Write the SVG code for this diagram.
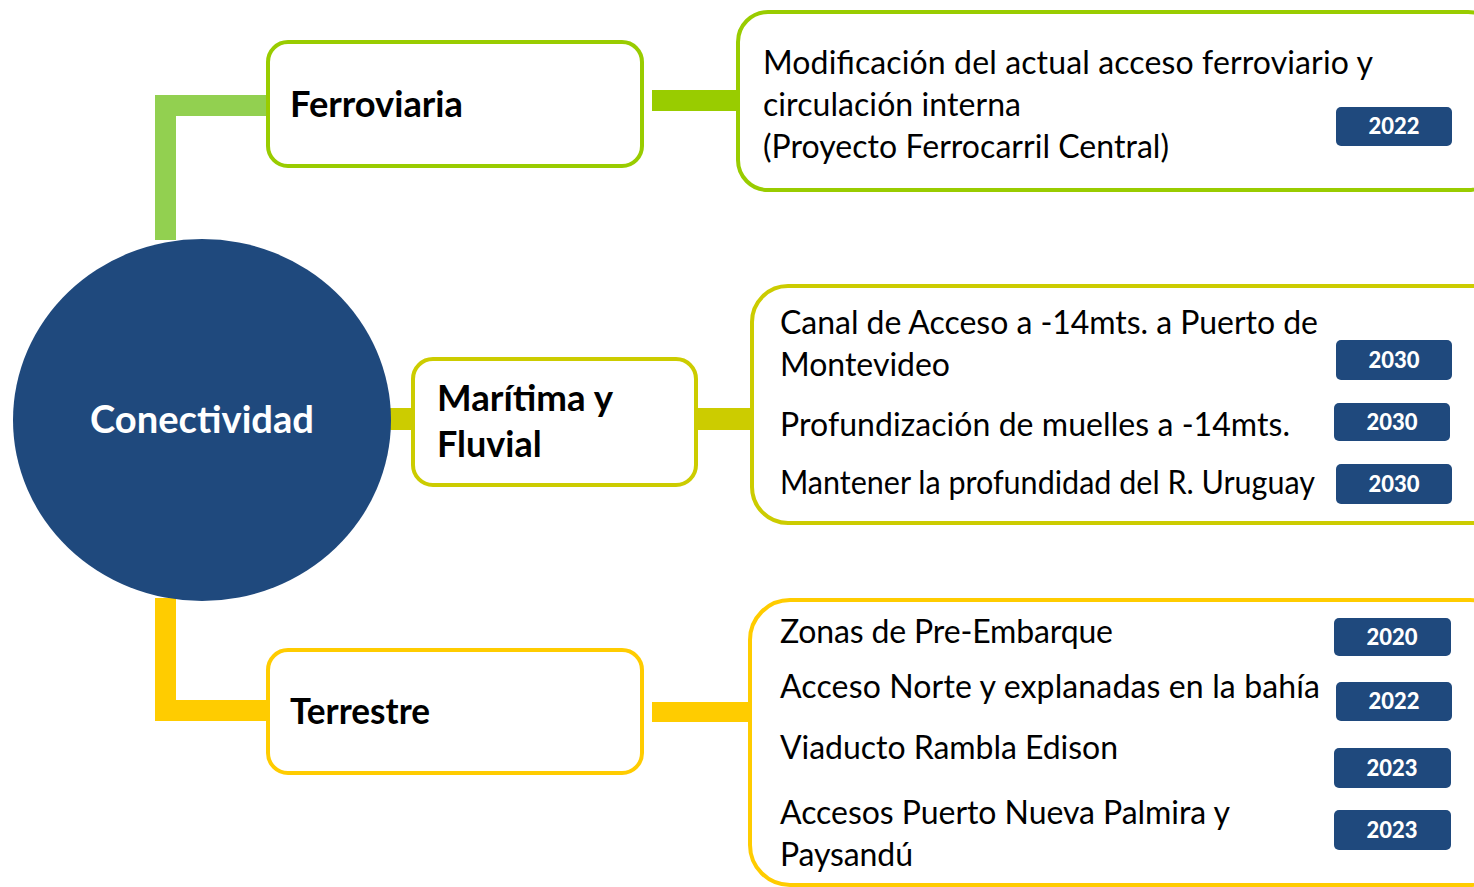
<svg xmlns="http://www.w3.org/2000/svg" width="1474" height="887" viewBox="0 0 1474 887">
<style>
.t{font-family:Lato,"Open Sans","Liberation Sans",sans-serif;font-size:32px;fill:#000}
.h{font-family:Lato,"Open Sans","Liberation Sans",sans-serif;font-size:36px;font-weight:bold;fill:#000}
.b{font-family:Lato,"Open Sans","Liberation Sans",sans-serif;font-size:22px;font-weight:900;fill:#fff;text-anchor:middle}
.badge{fill:#1f497d}
.box{fill:#fff;stroke-width:4}
</style>
<rect width="1474" height="887" fill="#fff"/>
<g id="connectors">
<path d="M165.5,240 V105.5 H268" fill="none" stroke="#92d050" stroke-width="21"/>
<rect x="652" y="90" width="86" height="21" fill="#99cc00"/>
<rect x="388" y="408" width="26" height="22" fill="#cccc00"/>
<rect x="696" y="408" width="56" height="22" fill="#cccc00"/>
<path d="M165.5,598 V710.5 H268" fill="none" stroke="#ffcc00" stroke-width="21"/>
<rect x="652" y="702" width="98" height="20" fill="#ffcc00"/>
</g>
<g id="conectividad">
<ellipse cx="202" cy="420" rx="189" ry="181" fill="#1f497d"/>
<text x="202" y="433" style="font-family:Lato,'Open Sans','Liberation Sans',sans-serif;font-size:38px;font-weight:bold;fill:#fff;text-anchor:middle" textLength="224" lengthAdjust="spacingAndGlyphs">Conectividad</text>
</g>
<g id="ferroviaria">
<rect class="box" x="268" y="42" width="374" height="124" rx="20" stroke="#99cc00"/>
<text class="h" x="290" y="117" textLength="173" lengthAdjust="spacingAndGlyphs">Ferroviaria</text>
</g>
<g id="ferro-detail">
<rect class="box" x="738" y="12" width="760" height="178" rx="30" stroke="#99cc00"/>
<text class="t" x="763" y="74" textLength="610">Modificación del actual acceso ferroviario y</text>
<text class="t" x="763" y="116" textLength="258">circulación interna</text>
<text class="t" x="763" y="158" textLength="406">(Proyecto Ferrocarril Central)</text>
<rect class="badge" x="1336" y="107" width="116" height="39" rx="5"/>
<text class="b" x="1394" y="134">2022</text>
</g>
<g id="maritima">
<rect class="box" x="413" y="359" width="283" height="126" rx="20" stroke="#cccc00"/>
<text class="h" x="437" y="411" textLength="176" lengthAdjust="spacingAndGlyphs">Marítima y</text>
<text class="h" x="437" y="457">Fluvial</text>
</g>
<g id="maritima-detail">
<rect class="box" x="752" y="286" width="760" height="237" rx="36" stroke="#cccc00"/>
<text class="t" x="780" y="334" textLength="538">Canal de Acceso a -14mts. a Puerto de</text>
<text class="t" x="780" y="376" textLength="170">Montevideo</text>
<text class="t" x="780" y="436" textLength="510">Profundización de muelles a -14mts.</text>
<text class="t" x="780" y="494" textLength="535" lengthAdjust="spacingAndGlyphs">Mantener la profundidad del R. Uruguay</text>
<rect class="badge" x="1336" y="340" width="116" height="40" rx="5"/>
<text class="b" x="1394" y="368">2030</text>
<rect class="badge" x="1334" y="403" width="116" height="38" rx="5"/>
<text class="b" x="1392" y="430">2030</text>
<rect class="badge" x="1336" y="464" width="116" height="40" rx="5"/>
<text class="b" x="1394" y="492">2030</text>
</g>
<g id="terrestre">
<rect class="box" x="268" y="650" width="374" height="123" rx="20" stroke="#ffcc00"/>
<text class="h" x="290" y="724" textLength="140" lengthAdjust="spacingAndGlyphs">Terrestre</text>
</g>
<g id="terrestre-detail">
<rect class="box" x="750" y="600" width="760" height="285" rx="40" stroke="#ffcc00"/>
<text class="t" x="780" y="643" textLength="333">Zonas de Pre-Embarque</text>
<text class="t" x="780" y="698" textLength="540">Acceso Norte y explanadas en la bahía</text>
<text class="t" x="780" y="759" textLength="338">Viaducto Rambla Edison</text>
<text class="t" x="780" y="824" textLength="450">Accesos Puerto Nueva Palmira y</text>
<text class="t" x="780" y="866" textLength="133">Paysandú</text>
<rect class="badge" x="1334" y="618" width="117" height="38" rx="5"/>
<text class="b" x="1392" y="645">2020</text>
<rect class="badge" x="1336" y="682" width="116" height="39" rx="5"/>
<text class="b" x="1394" y="709">2022</text>
<rect class="badge" x="1334" y="748" width="117" height="40" rx="5"/>
<text class="b" x="1392" y="776">2023</text>
<rect class="badge" x="1334" y="810" width="117" height="40" rx="5"/>
<text class="b" x="1392" y="838">2023</text>
</g>
</svg>
